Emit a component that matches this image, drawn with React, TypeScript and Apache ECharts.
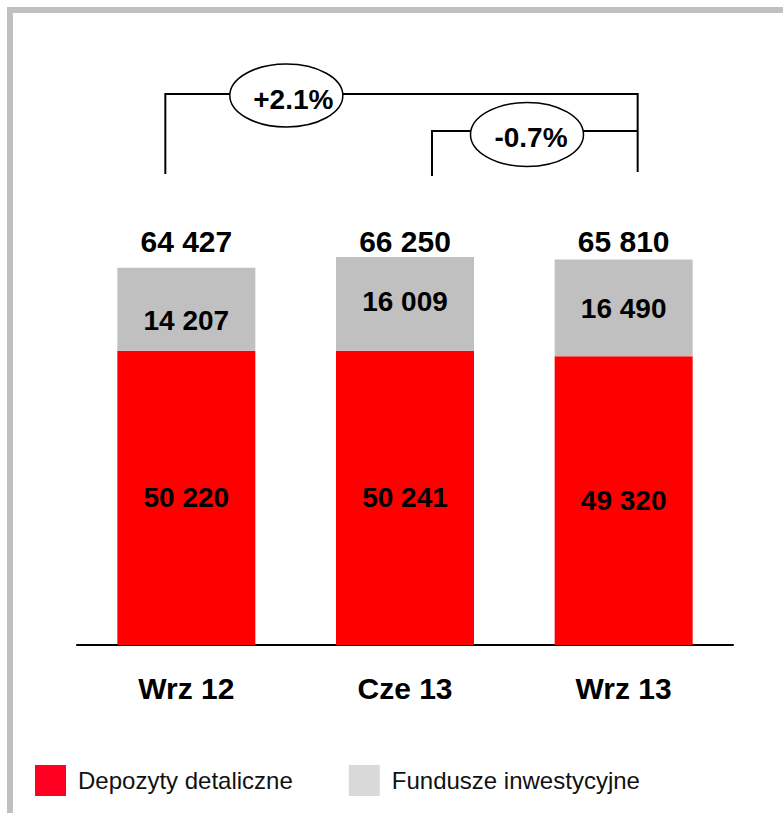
import React, { useEffect, useRef } from "react";
import * as echarts from "echarts";

const categories = ["Wrz 12", "Cze 13", "Wrz 13"];
const depozyty = [50220, 50241, 49320];
const fundusze = [14207, 16009, 16490];
const totals = [64427, 66250, 65810];
const seriesNames = ["Depozyty detaliczne", "Fundusze inwestycyjne"];
const changes = ["+2.1%", "-0.7%"];

const grayLabelOffsets = [[0, 11], [0, -2], [0, 1]];

const fmt = (v: number) => String(v).replace(/\B(?=(\d{3})+(?!\d))/g, " ");

export default function App() {
  const ref = useRef<HTMLDivElement>(null);
  useEffect(() => {
    document.body.style.margin = "0";
    const chart = echarts.init(ref.current!, null, { renderer: "svg" });
    const font = "'Liberation Sans', Arial, Helvetica, sans-serif";
    const segLabel = {
      show: true,
      position: "inside",
      formatter: (p: any) => fmt(p.value),
      fontFamily: font,
      fontSize: 28,
      fontWeight: "bold",
      color: "#000000",
    };
    chart.setOption({
      animation: false,
      backgroundColor: "#ffffff",
      grid: { left: 77, right: 50, top: 235, bottom: 168 },
      xAxis: {
        type: "category",
        data: categories,
        axisLine: { lineStyle: { color: "#000000", width: 2 } },
        axisTick: { show: false },
        axisLabel: {
          fontFamily: font,
          fontSize: 30,
          fontWeight: "bold",
          color: "#000000",
          margin: 28,
        },
      },
      yAxis: { type: "value", min: 0, max: 70000, show: false, splitLine: { show: false } },
      legend: {
        left: 35,
        top: 765,
        padding: 0,
        icon: "rect",
        itemWidth: 31,
        itemHeight: 31,
        itemGap: 56,
        selectedMode: false,
        data: [
          { name: seriesNames[0], itemStyle: { color: "#ff0020" } },
          { name: seriesNames[1], itemStyle: { color: "#d9d9d9" } },
        ],
        textStyle: { fontFamily: font, fontSize: 24, color: "#111111", padding: [0, 0, 0, 7] },
      },
      series: [
        {
          name: seriesNames[0],
          type: "bar",
          stack: "total",
          barWidth: 138,
          data: depozyty,
          itemStyle: { color: "#ff0000" },
          label: segLabel,
        },
        {
          name: seriesNames[1],
          type: "bar",
          stack: "total",
          barWidth: 138,
          data: fundusze.map((v, i) => ({ value: v, label: { offset: grayLabelOffsets[i] } })),
          itemStyle: { color: "#c0c0c0" },
          label: segLabel,
        },
      ],
    });

    const px = categories.map((c) => chart.convertToPixel({ xAxisIndex: 0 }, c) as number);
    const xL = px[0] - 21;
    const xR = px[2] + 14;
    const xM = px[1] + 27;
    const y1 = 94;
    const y2 = 131;
    const e1 = { cx: px[0] + 100, cy: 95.5, rx: 56.5, ry: 31.5 };
    const e2 = { cx: px[1] + 122, cy: 134.5, rx: 56.5, ry: 32 };
    const lineStyle = { stroke: "#000000", lineWidth: 2, fill: null };
    const boldText = (text: string, x: number, y: number, size: number) => ({
      type: "text",
      x,
      y,
      z: 20,
      style: {
        text,
        fontFamily: font,
        fontSize: size,
        fontWeight: "bold",
        fill: "#000000",
        align: "center",
        verticalAlign: "middle",
      },
    });

    chart.setOption({
      graphic: [
        { type: "rect", shape: { x: 7, y: 7, width: 6, height: 806 }, style: { fill: "#c0c0c0" }, z: 1 },
        { type: "rect", shape: { x: 7, y: 7, width: 776, height: 6 }, style: { fill: "#c0c0c0" }, z: 1 },
        {
          type: "polyline",
          shape: { points: [[xL, 174], [xL, y1], [xR, y1], [xR, 172]] },
          style: lineStyle,
          z: 5,
        },
        {
          type: "polyline",
          shape: { points: [[xM, 176], [xM, y2], [xR, y2]] },
          style: lineStyle,
          z: 5,
        },
        { type: "ellipse", shape: e1, style: { fill: "#ffffff", stroke: "#000000", lineWidth: 1.5 }, z: 10 },
        { type: "ellipse", shape: e2, style: { fill: "#ffffff", stroke: "#000000", lineWidth: 1.5 }, z: 10 },
        boldText(changes[0], e1.cx + 7, e1.cy + 4, 28),
        boldText(changes[1], e2.cx + 4, e2.cy + 3, 28),
        ...totals.map((t, i) => boldText(fmt(t), px[i], 241, 30)),
      ],
    });

    return () => chart.dispose();
  }, []);
  return (
    <div
      ref={ref}
      style={{ position: "absolute", left: 0, top: 0, width: 783, height: 813 }}
    />
  );
}
